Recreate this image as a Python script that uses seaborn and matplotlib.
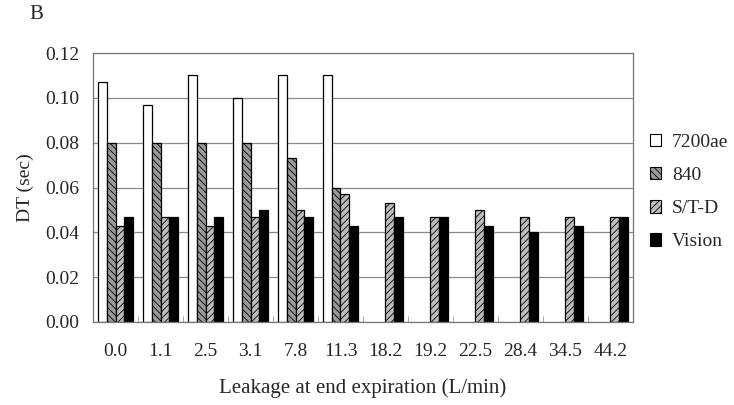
import numpy as np
import pandas as pd
import matplotlib
matplotlib.use("Agg")
import matplotlib.pyplot as plt
import seaborn as sns
from matplotlib.patches import Patch

categories = ["0.0", "1.1", "2.5", "3.1", "7.8", "11.3", "18.2", "19.2", "22.5", "28.4", "34.5", "44.2"]
series_names = ["7200ae", "840", "S/T-D", "Vision"]
v7200ae = [0.107, 0.097, 0.110, 0.100, 0.110, 0.110, np.nan, np.nan, np.nan, np.nan, np.nan, np.nan]
v840 = [0.080, 0.080, 0.080, 0.080, 0.073, 0.060, np.nan, np.nan, np.nan, np.nan, np.nan, np.nan]
vstd = [0.043, 0.047, 0.043, 0.047, 0.050, 0.057, 0.053, 0.047, 0.050, 0.047, 0.047, 0.047]
vvision = [0.047, 0.047, 0.047, 0.050, 0.047, 0.043, 0.047, 0.047, 0.043, 0.040, 0.043, 0.047]

rows = []
for name, vals in zip(series_names, [v7200ae, v840, vstd, vvision]):
    for c, v in zip(categories, vals):
        rows.append({"leak": c, "device": name, "dt": v})
df = pd.DataFrame(rows)

sns.set_style("white")
plt.rcParams["font.family"] = ["Liberation Serif", "DejaVu Serif"]
plt.rcParams["hatch.linewidth"] = 0.6

fig = plt.figure(figsize=(7.34, 4.05), dpi=100)
ax = fig.add_axes([0.127, 0.205, 0.735, 0.664])

facecolors = {"7200ae": "white", "840": "#9a9a9a", "S/T-D": "#bdbdbd", "Vision": "black"}
hatches = {"7200ae": "", "840": "\\\\\\\\\\", "S/T-D": "/////", "Vision": ""}

sns.barplot(data=df, x="leak", y="dt", hue="device", order=categories,
            hue_order=series_names, palette=facecolors, width=0.78,
            edgecolor="black", linewidth=0.9, saturation=1, ax=ax, legend=False)

for cont, name in zip(ax.containers, series_names):
    for bar in cont:
        bar.set_hatch(hatches[name])
        bar.set_edgecolor("black")

ax.set_ylim(0, 0.12)
ax.set_xlim(-0.5, len(categories) - 0.5)
ax.set_yticks(np.arange(0, 0.121, 0.02))
ax.set_yticklabels([f"{t:.2f}" for t in np.arange(0, 0.121, 0.02)])
ax.yaxis.grid(True, color="#8a8a8a", linewidth=0.9)
ax.set_axisbelow(True)
for sp in ax.spines.values():
    sp.set_color("#777777")
    sp.set_linewidth(0.9)

ax.set_xticks(np.arange(-0.5, len(categories)), minor=True)
ax.tick_params(axis="x", which="minor", direction="in", length=4, color="#999999", bottom=True)
ax.tick_params(axis="x", which="major", length=0, pad=15, labelsize=14)
ax.tick_params(axis="y", which="major", length=0, pad=10, labelsize=14)

ax.set_xlabel("Leakage at end expiration (L/min)", fontsize=15, labelpad=13)
ax.set_ylabel("DT (sec)", fontsize=14, labelpad=8)

handles = [Patch(facecolor=facecolors[n], edgecolor="black", hatch=hatches[n], linewidth=0.8)
           for n in series_names]
ax.legend(handles, series_names, loc="center left", bbox_to_anchor=(1.01, 0.483),
          frameon=False, fontsize=14, handlelength=0.6, handleheight=0.6,
          handletextpad=0.55, labelspacing=0.83, borderaxespad=0.2)

fig.text(0.04, 0.965, "B", fontsize=15, va="center", ha="left")

fig.savefig("out.png", dpi=100)
